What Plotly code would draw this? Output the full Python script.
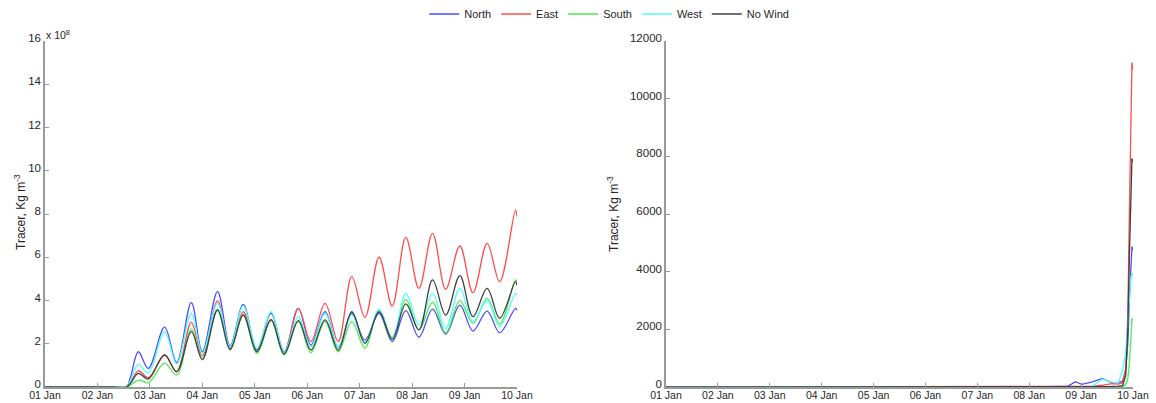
import pandas as pd
import plotly.graph_objects as go

# ---------------- data ----------------
series_names = ["North", "East", "South", "West", "No Wind"]
series_colors = ["#4d4dff", "#ff4d4d", "#4ded4d", "#4dffff", "#404040"]

# left panel: time in days after 01 Jan (x 10^8 Kg m^-3)
t_left = [0, 1.3, 1.55, 1.63, 1.78, 1.97, 2.28, 2.51, 2.79, 3.0, 3.29, 3.53, 3.78, 4.04,
          4.31, 4.56, 4.83, 5.07, 5.34, 5.59, 5.85, 6.1, 6.37, 6.62, 6.88, 7.13, 7.39,
          7.64, 7.91, 8.16, 8.43, 8.67, 8.97, 9.0]
north_left = [0, 0, 0, 0.45, 1.63, 0.86, 2.77, 1.13, 3.9, 1.63, 4.41, 1.9, 3.82, 1.71,
              3.41, 1.63, 3.64, 1.94, 3.48, 1.84, 3.41, 2.17, 3.41, 2.1, 3.53, 2.3, 3.6,
              2.45, 3.79, 2.59, 3.51, 2.51, 3.64, 3.55]
east_left = [0, 0, 0, 0.2, 0.75, 0.43, 1.48, 0.72, 2.99, 1.43, 3.98, 1.79, 3.48, 1.63,
             3.13, 1.53, 3.64, 2.1, 3.87, 2.1, 5.1, 3.22, 6.0, 3.75, 6.92, 4.56, 7.1,
             4.52, 6.52, 4.36, 6.64, 4.87, 8.18, 7.88]
south_left = [0, 0, 0, 0.08, 0.32, 0.2, 1.1, 0.55, 2.67, 1.25, 3.56, 1.71, 3.33, 1.56,
              3.07, 1.48, 3.02, 1.59, 3.02, 1.63, 3.02, 1.8, 3.59, 2.3, 4.05, 2.64, 3.92,
              2.5, 3.99, 2.94, 4.1, 2.91, 4.95, 4.85]
west_left = [0, 0, 0, 0.3, 1.05, 0.64, 2.56, 1.06, 3.41, 1.56, 3.87, 1.84, 3.75, 1.79,
             3.48, 1.6, 3.25, 1.86, 3.41, 1.86, 3.33, 2.05, 3.56, 2.2, 4.33, 2.87, 4.33,
             2.71, 4.56, 3.02, 4.0, 2.79, 4.33, 4.25]
nowind_left = [0, 0, 0, 0.17, 0.63, 0.37, 1.48, 0.7, 2.56, 1.28, 3.56, 1.74, 3.33, 1.63,
               3.1, 1.53, 3.07, 1.71, 3.1, 1.71, 3.48, 2.02, 3.48, 2.2, 3.84, 2.64, 4.95,
               3.33, 5.15, 3.25, 4.56, 3.18, 4.87, 4.7]

# right panel: time in days after 01 Jan (Kg m^-3)
t_right = [0, 6.8, 7.4, 7.75, 7.89, 8.01, 8.2, 8.41, 8.59, 8.72, 8.8, 8.86, 8.9, 8.93,
           8.96, 8.98, 9.0]
north_right = [0, 0, 10, 30, 185, 95, 170, 300, 150, 150, 200, 600, 1500, 3000, 4300, 4870, 4750]
east_right = [0, 0, 0, 0, 5, 10, 20, 60, 120, 100, 150, 600, 2500, 6000, 9500, 11250, 11000]
south_right = [0, 0, 0, 0, 0, 0, 0, 0, 5, 10, 20, 80, 300, 800, 1600, 2380, 2300]
west_right = [0, 0, 0, 0, 0, 0, 5, 280, 170, 150, 600, 1200, 2200, 3200, 3800, 3945, 3850]
nowind_right = [0, 0, 0, 0, 0, 0, 5, 10, 20, 30, 50, 400, 2000, 4500, 7000, 7930, 7800]

tick_labels = ["01 Jan", "02 Jan", "03 Jan", "04 Jan", "05 Jan",
               "06 Jan", "07 Jan", "08 Jan", "09 Jan", "10 Jan"]
y_label = "Tracer, Kg m<sup>-3</sup>"
exponent_label = "x 10<sup>8</sup>"

start = pd.Timestamp("2010-01-01")


def to_dates(days):
    return start + pd.to_timedelta(days, unit="D")


tick_vals = [start + pd.Timedelta(days=i) for i in range(len(tick_labels))]

left_data = [north_left, east_left, south_left, west_left, nowind_left]
right_data = [north_right, east_right, south_right, west_right, nowind_right]

# ---------------- figure ----------------
W, H = 1156, 403
FONT = "Liberation Sans, Arial, sans-serif"
fig = go.Figure()

for name, color, yl in zip(series_names, series_colors, left_data):
    fig.add_trace(go.Scatter(
        x=to_dates(t_left), y=yl, mode="lines", name=name,
        line=dict(color=color, width=1.3, shape="spline", smoothing=1.0),
        xaxis="x", yaxis="y", legendgroup=name, showlegend=True))

for name, color, yr in zip(series_names, series_colors, right_data):
    fig.add_trace(go.Scatter(
        x=to_dates(t_right), y=yr, mode="lines", name=name,
        line=dict(color=color, width=1.3),
        xaxis="x2", yaxis="y2", legendgroup=name, showlegend=False))

axis_common = dict(showline=True, linecolor="#9a9a9a", linewidth=1.5, mirror=False,
                   ticks="inside", ticklen=4, tickcolor="#9a9a9a", tickwidth=1,
                   showgrid=False, zeroline=False, automargin=False)
yfont = dict(family=FONT, size=11.5, color="#262626")
xfont = dict(family=FONT, size=10.5, color="#262626")

x_range = [start, start + pd.Timedelta(days=9)]
ydom = [(H - 387) / H, (H - 41) / H]

fig.update_layout(
    width=W, height=H,
    margin=dict(l=0, r=0, t=0, b=0, autoexpand=False),
    paper_bgcolor="white", plot_bgcolor="white",
    xaxis=dict(domain=[45 / W, 517 / W], range=x_range, tickvals=tick_vals,
               ticktext=tick_labels, anchor="y", tickfont=xfont,
               ticklabelstandoff=-2, **axis_common),
    yaxis=dict(domain=ydom, range=[0, 16], tickvals=list(range(0, 17, 2)),
               anchor="x", tickfont=yfont, ticklabelshift=-3, **axis_common),
    xaxis2=dict(domain=[666 / W, 1133 / W], range=x_range, tickvals=tick_vals,
                ticktext=tick_labels, anchor="y2", tickfont=xfont,
                ticklabelstandoff=-2, **axis_common),
    yaxis2=dict(domain=ydom, range=[0, 12000], tickvals=list(range(0, 12001, 2000)),
                tickformat="d", anchor="x2", tickfont=yfont, ticklabelshift=-3,
                **axis_common),
    legend=dict(orientation="h", x=0.527, xanchor="center", y=(H - 14) / H,
                yanchor="middle", font=dict(family=FONT, size=11, color="#262626"),
                bgcolor="rgba(0,0,0,0)", itemwidth=30),
    showlegend=True,
    annotations=[
        dict(text=y_label, x=20 / W, y=(H - 212) / H, xref="paper", yref="paper",
             textangle=-90, showarrow=False, xanchor="center", yanchor="middle",
             font=dict(family=FONT, size=12, color="#262626")),
        dict(text=y_label, x=613 / W, y=(H - 214) / H, xref="paper", yref="paper",
             textangle=-90, showarrow=False, xanchor="center", yanchor="middle",
             font=dict(family=FONT, size=12, color="#262626")),
        dict(text=exponent_label, x=44 / W, y=(H - 34) / H, xref="paper", yref="paper",
             showarrow=False, xanchor="left", yanchor="middle",
             font=dict(family=FONT, size=10.5, color="#262626")),
    ],
)

fig.write_html("out.html")
